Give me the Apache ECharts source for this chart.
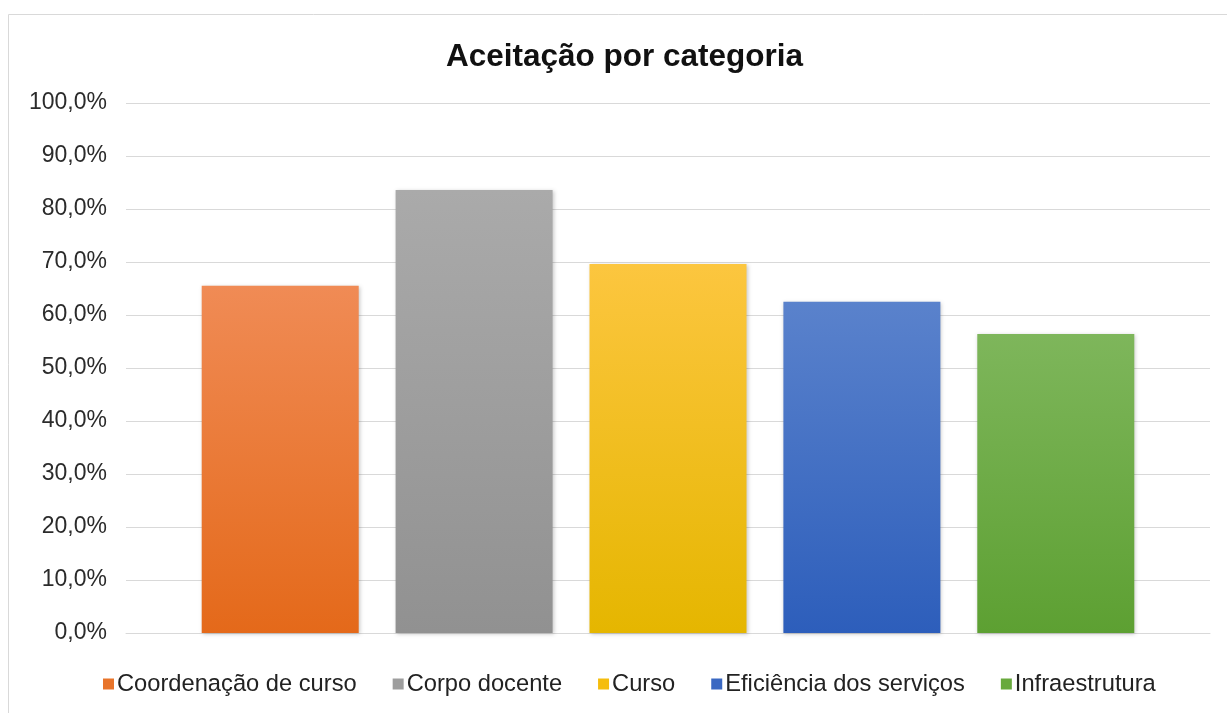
<!DOCTYPE html>
<html lang="pt">
<head>
    <meta charset="UTF-8">
    <title>Aceitação por categoria</title>
    <script src="https://cdn.jsdelivr.net/npm/echarts@6/dist/echarts.min.js"></script>
    <style>
        body { margin: 0; background: #fff; }
        #chart { width: 1227px; height: 713px; }
    </style>
</head>
<body>
<div id="chart"></div>
<script>
// data
const categories = ['Aceitação'];
const seriesNames = ['Coordenação de curso', 'Corpo docente', 'Curso', 'Eficiência dos serviços', 'Infraestrutura'];
const seriesValues = [65.5, 83.6, 69.6, 62.5, 56.4];
const yTicks = [0, 10, 20, 30, 40, 50, 60, 70, 80, 90, 100];

// top / bottom colour of each bar's gradient
const topColors = ['#F08B55', '#AAAAAA', '#FCC63F', '#5A82CC', '#7EB65B'];
const bottomColors = ['#E4691A', '#919191', '#E5B600', '#2D5EBB', '#5DA032'];
const legendColors = ['#E8742A', '#9E9E9E', '#F5BD0C', '#3A68C2', '#68A93D'];

const chart = echarts.init(document.getElementById('chart'));

const series = seriesNames.map((name, i) => ({
    name: name,
    type: 'bar',
    data: [seriesValues[i]],
    barWidth: 157,
    barGap: '23.5%',
    itemStyle: {
        color: new echarts.graphic.LinearGradient(0, 0, 0, 1, [
            { offset: 0, color: topColors[i] },
            { offset: 1, color: bottomColors[i] }
        ]),
        shadowColor: 'rgba(0,0,0,0.22)',
        shadowBlur: 4,
        shadowOffsetX: 1,
        shadowOffsetY: 1
    }
}));

chart.setOption({
    animation: false,
    textStyle: { fontFamily: '"Liberation Sans", Arial, sans-serif' },
    graphic: [{
        type: 'rect',
        left: 6, top: 12,
        shape: { width: 1240, height: 720 },
        style: { fill: 'none', stroke: '#d9d9d9', lineWidth: 1 },
        silent: true
    }],
    title: {
        text: 'Aceitação por categoria',
        left: 441,
        top: 36,
        textStyle: { fontSize: 31.5, fontWeight: 'bold', color: '#111', fontFamily: '"Liberation Sans", Arial, sans-serif' }
    },
    legend: {
        data: seriesNames.map((n, i) => ({ name: n, itemStyle: { color: legendColors[i] } })),
        bottom: 12,
        left: 98,
        icon: 'rect',
        itemWidth: 11,
        itemHeight: 11,
        itemGap: 36,
        textStyle: { fontSize: 23.7, color: '#222', padding: [0, 0, 0, -2] }
    },
    grid: { left: 126, right: 17, top: 103, bottom: 80, containLabel: false },
    xAxis: {
        type: 'category',
        data: categories,
        axisLine: { show: true, lineStyle: { color: '#d9d9d9' } },
        axisTick: { show: false },
        axisLabel: { show: false }
    },
    yAxis: {
        type: 'value',
        min: yTicks[0],
        max: yTicks[yTicks.length - 1],
        interval: 10,
        axisLine: { show: false },
        axisTick: { show: false },
        splitLine: { lineStyle: { color: '#d9d9d9' } },
        axisLabel: {
            margin: 19,
            fontSize: 23,
            color: '#2b2b2b',
            formatter: v => v.toFixed(1).replace('.', ',') + '%'
        }
    },
    series: series
});
</script>
</body>
</html>
